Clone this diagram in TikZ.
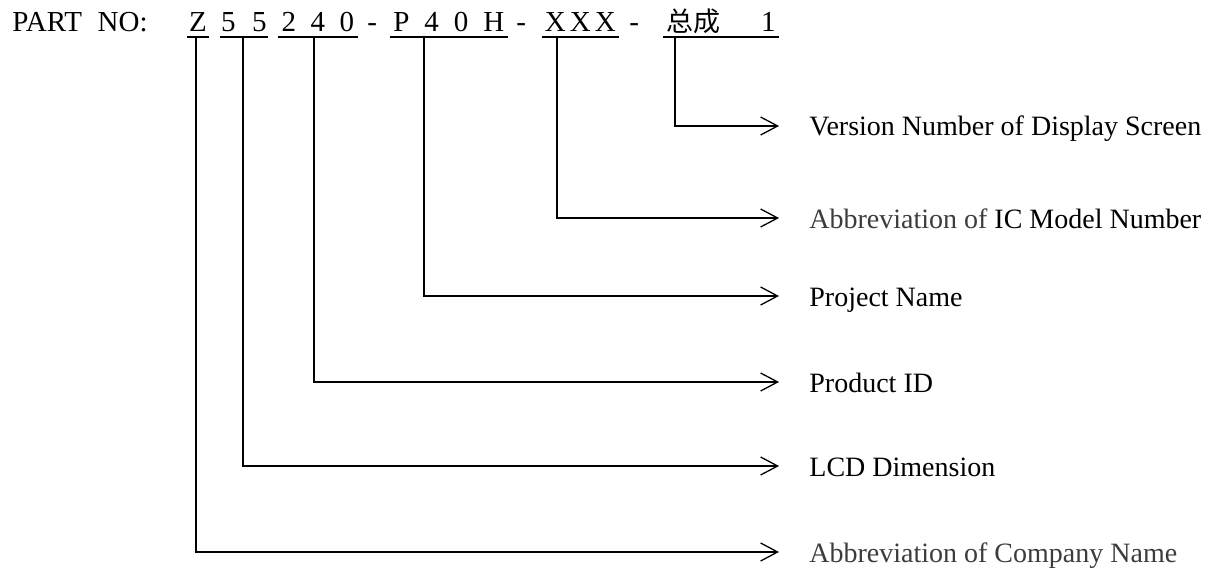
\documentclass[tikz,border=0pt]{standalone}
\usepackage{fontspec}
\setmainfont{Liberation Serif}
\newfontfamily\cjk{Noto Sans CJK SC}
\usetikzlibrary{arrows.meta}
\definecolor{txtgray}{HTML}{3C3C3C}
\begin{document}
\begin{tikzpicture}[x=0.5pt,y=-0.5pt,
  hdr/.style={font=\fontsize{14.5pt}{16pt}\selectfont, inner sep=0pt},
  grp/.style={hdr, anchor=south west, text depth=2.5pt, minimum height=0pt},
  ul/.style={line width=0.55pt},
  lbl/.style={font=\fontsize{14pt}{16pt}\selectfont, anchor=west, inner xsep=15pt, inner ysep=0pt, text height=10pt, text depth=0pt},
  conn/.style={line width=0.65pt, -{Straight Barb[length=8.5pt,width=9pt]}}]
\useasboundingbox (0,0) rectangle (1219,572);
% header
\node[hdr, anchor=base west] (partno) at (12,32) {PART\hspace{7.8pt}NO:};
\node[grp, minimum width=10.5pt] (gZ) at (187,37) {Z};
\node[grp, minimum width=23.5pt] (g55) at (220,37) {5\hspace{8.25pt}5};
\node[grp, minimum width=39.5pt] (g240) at (278,37) {2\hspace{7.25pt}4\hspace{7.25pt}0};
\node[hdr, anchor=base west] (d1) at (367,32) {-};
\node[grp, minimum width=58.5pt] (gP) at (390,37) {P\hspace{7.5pt}4\hspace{7.5pt}0\hspace{7.5pt}H};
\node[hdr, anchor=base west] (d2) at (516,32) {-};
\node[grp, minimum width=38pt] (gX) at (542,37) {X\hspace{2pt}X\hspace{2pt}X};
\node[hdr, anchor=base west] (d3) at (629,32) {-};
\node[grp, minimum width=57.5pt] (gV) at (663,37) {{\cjk\fontsize{13.5pt}{16pt}\selectfont 总成}\hspace{20.5pt}1};
\foreach \g in {gZ,g55,g240,gP,gX,gV} \draw[ul] (\g.south west) -- (\g.south east);
% branch points
\coordinate (vZ) at (196,37);
\coordinate (v55) at (243,37);
\coordinate (v240) at (314,37);
\coordinate (vP) at (424,37);
\coordinate (vX) at (557,37);
\coordinate (vV) at (675,37);
% labels
\node[lbl] (lV) at (779,126) {Version Number of Display Screen};
\node[lbl] (lX) at (779,218) {\textcolor{txtgray}{Abbreviation of} IC Model Number};
\node[lbl] (lP) at (779,296) {Project Name};
\node[lbl] (l240) at (779,382) {Product ID};
\node[lbl] (l55) at (779,466) {LCD Dimension};
\node[lbl, text=txtgray] (lZ) at (779,552) {Abbreviation of Company Name};
% connectors
\draw[conn] (vV) |- (lV.west);
\draw[conn] (vX) |- (lX.west);
\draw[conn] (vP) |- (lP.west);
\draw[conn] (v240) |- (l240.west);
\draw[conn] (v55) |- (l55.west);
\draw[conn] (vZ) |- (lZ.west);
\end{tikzpicture}
\end{document}
